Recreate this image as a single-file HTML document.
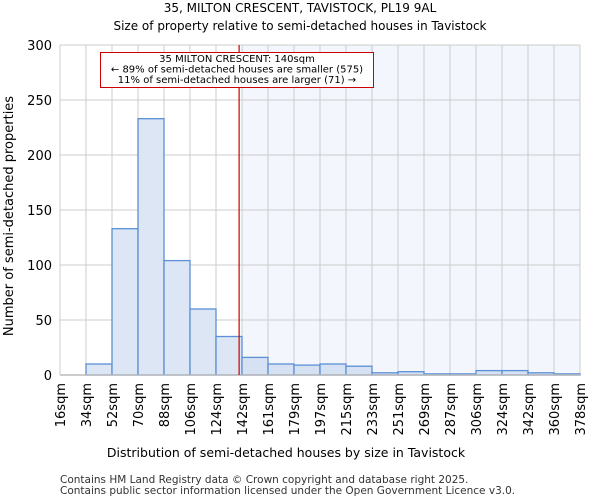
<!DOCTYPE html>
<html><head><meta charset="utf-8"><style>
body{margin:0;background:#fff;font-family:"DejaVu Sans","Liberation Sans",sans-serif;}
</style></head><body>
<svg width="600" height="500" xmlns="http://www.w3.org/2000/svg" font-family="DejaVu Sans, Liberation Sans, sans-serif">
<text x="300" y="12" text-anchor="middle" font-size="12">35, MILTON CRESCENT, TAVISTOCK, PL19 9AL</text>
<text x="300" y="30" text-anchor="middle" font-size="12">Size of property relative to semi-detached houses in Tavistock</text>
<g id="plot"></g>
<text x="286" y="457" text-anchor="middle" font-size="12.5">Distribution of semi-detached houses by size in Tavistock</text>
<text transform="translate(13,216) rotate(-90)" text-anchor="middle" font-size="13">Number of semi-detached properties</text>
<text x="60" y="483" font-size="10.5" fill="#333">Contains HM Land Registry data © Crown copyright and database right 2025.</text>
<text x="60" y="494" font-size="10.5" fill="#333">Contains public sector information licensed under the Open Government Licence v3.0.</text>
</svg>
<script>
const categories=["16sqm","34sqm","52sqm","70sqm","88sqm","106sqm","124sqm","142sqm","161sqm","179sqm","197sqm","215sqm","233sqm","251sqm","269sqm","287sqm","306sqm","324sqm","342sqm","360sqm","378sqm"];
const binEdges=[16,34,52,70,88,106,124,142,161,179,197,215,233,251,269,287,306,324,342,360,378];
const counts=[0,10,133,233,104,60,35,16,10,9,10,8,2,3,1,1,4,4,2,1];
const yTicks=[0,50,100,150,200,250,300];
const markerValue=140;
const L=60,R=580,T=45,B=375,yMax=300;
const nb=counts.length;
const xi=i=>L+(R-L)*i/nb;
const xv=v=>{let i=0;while(i<nb-1&&v>binEdges[i+1])i++;return xi(i)+(v-binEdges[i])/(binEdges[i+1]-binEdges[i])*(R-L)/nb;};
const y=v=>B-(B-T)*v/yMax;
const NS="http://www.w3.org/2000/svg";
const g=document.getElementById('plot');
function mk(tag,at){const e=document.createElementNS(NS,tag);for(const k in at)e.setAttribute(k,at[k]);g.appendChild(e);return e;}
let mi=0;while(mi<nb-1&&markerValue>=binEdges[mi+1])mi++;
const shadeX=xi(mi+1);
let e=mk('rect',{x:shadeX,y:T,width:R-shadeX,height:B-T,fill:'#f3f6fd'});


binEdges.forEach((b,i)=>{const l=mk('line',{x1:xi(i),x2:xi(i),y1:T,y2:B,stroke:'#cccccc','stroke-width':1});

});
yTicks.forEach(t=>{const l=mk('line',{x1:L,x2:R,y1:y(t),y2:y(t),stroke:'#cccccc','stroke-width':1});


const tx=mk('text',{x:L-8,y:y(t)+5,'text-anchor':'end','font-size':13});tx.textContent=t;

});
counts.forEach((c,i)=>{if(c<=0)return;const r=mk('rect',{x:xi(i),y:y(c),width:xi(i+1)-xi(i),height:B-y(c),fill:i>mi?'#d6e1f3':'#dce6f4',stroke:'#5b8fd6','stroke-width':1.3});

});
e=mk('line',{x1:L,x2:R,y1:B,y2:B,stroke:'#bbbbbb','stroke-width':1.5});


categories.forEach((c,i)=>{const t=mk('text',{transform:`translate(${xi(i)+5},${B+8}) rotate(-90)`,'text-anchor':'end','font-size':13});t.textContent=c;

});
const mx=xv(markerValue);
e=mk('line',{x1:mx,x2:mx,y1:T,y2:B,stroke:'#cc0000','stroke-width':1.2});


e=mk('rect',{x:100.5,y:52.5,width:273,height:35,fill:'#fff',stroke:'#cc0000','stroke-width':1});


["35 MILTON CRESCENT: 140sqm","← 89% of semi-detached houses are smaller (575)","11% of semi-detached houses are larger (71) →"].forEach((s,k)=>{const t=mk('text',{x:237,y:62+k*10.5,'text-anchor':'middle','font-size':10});t.textContent=s;

});
</script>
</body></html>
